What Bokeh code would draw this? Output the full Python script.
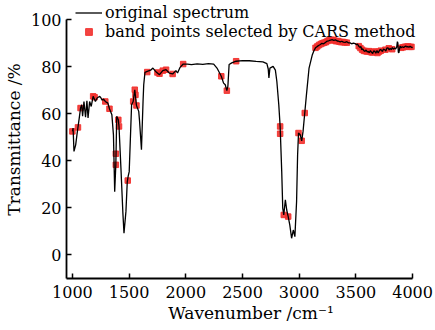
from bokeh.plotting import figure
from bokeh.models import Legend, LegendItem, Range1d, FixedTicker
from bokeh.embed import file_html
from bokeh.resources import INLINE

# ---- data ----
wavenumber = [1000, 1006, 1014, 1022, 1029, 1040, 1049, 1060, 1072, 1082, 1090, 1102, 1116, 1128,
              1138, 1152, 1166, 1183, 1203, 1218, 1241, 1252, 1262, 1275, 1290, 1313, 1327, 1348,
              1362, 1373, 1383, 1391, 1405, 1411, 1428, 1445, 1455, 1472, 1484, 1492, 1501, 1522,
              1536, 1550, 1565, 1585, 1592, 1609, 1623, 1629, 1640, 1660, 1690, 1710, 1739, 1768,
              1797, 1826, 1855, 1884, 1913, 1927, 1950, 1977, 2015, 2050, 2100, 2150, 2200, 2246,
              2275, 2298, 2313, 2333, 2348, 2362, 2371, 2382, 2405, 2444, 2500, 2560, 2620, 2680,
              2715, 2727, 2733, 2742, 2770, 2790, 2803, 2820, 2832, 2846, 2855, 2864, 2878, 2890,
              2903, 2917, 2933, 2948, 2962, 2977, 2986, 2994, 3009, 3022, 3034, 3049, 3064, 3087,
              3116, 3130, 3144, 3160, 3175, 3187, 3200, 3215, 3231, 3245, 3260, 3275, 3290, 3305,
              3320, 3335, 3348, 3362, 3375, 3390, 3405, 3420, 3435, 3449, 3462, 3478, 3493, 3505,
              3515, 3522, 3535, 3545, 3551, 3560, 3570, 3580, 3590, 3600, 3609, 3618, 3628, 3638,
              3648, 3657, 3667, 3676, 3686, 3696, 3705, 3715, 3725, 3734, 3744, 3754, 3764, 3773,
              3783, 3793, 3802, 3812, 3822, 3831, 3841, 3850, 3860, 3866, 3870, 3874, 3879, 3885,
              3890, 3899, 3910, 3920, 3928, 3940, 3950, 3957, 3968, 3978, 3985, 3993, 4000]
transmittance = [52.5, 53.9, 44.0, 45.5, 46.8, 51.0, 54.2, 58.0, 62.4, 63.8, 58.9, 65.2, 58.5, 65.5,
                 58.2, 65.2, 63.1, 67.4, 65.2, 66.7, 67.4, 66.7, 65.8, 66.2, 65.2, 64.5, 62.1, 59.6,
                 51.0, 26.9, 38.3, 58.9, 57.4, 54.6, 36.9, 18.0, 9.2, 18.4, 31.2, 33.5, 35.4, 63.8,
                 65.2, 70.2, 63.5, 61.0, 57.0, 44.7, 65.2, 72.3, 77.6, 78.0, 78.5, 79.4, 77.7, 76.6,
                 78.3, 78.7, 77.3, 76.9, 78.3, 77.3, 79.7, 81.1, 81.1, 80.9, 81.2, 81.0, 81.3, 81.1,
                 79.4, 77.3, 75.9, 73.0, 72.3, 69.8, 71.6, 80.9, 81.6, 82.3, 82.6, 82.5, 82.2, 82.0,
                 81.3, 79.0, 75.2, 79.4, 80.1, 78.5, 73.7, 63.8, 54.6, 35.4, 19.9, 17.0, 23.4, 19.1,
                 16.3, 12.8, 7.1, 10.6, 7.8, 22.7, 42.6, 51.8, 51.1, 48.5, 52.5, 60.3, 68.1, 79.4,
                 85.1, 86.8, 88.0, 88.6, 89.1, 89.4, 89.9, 89.7, 90.3, 90.8, 91.0, 91.3, 91.5, 91.2,
                 91.4, 90.9, 90.8, 90.5, 90.8, 90.4, 90.3, 90.6, 90.1, 90.1, 89.7, 90.0, 89.8, 89.3,
                 89.6, 88.9, 88.2, 88.5, 87.2, 87.6, 86.8, 86.5, 87.1, 86.2, 86.5, 85.9, 86.8, 86.1,
                 85.6, 86.7, 86.5, 85.7, 86.9, 85.8, 86.6, 87.3, 87.0, 86.4, 87.5, 87.2, 86.6, 87.9,
                 88.0, 87.1, 87.8, 87.2, 88.1, 87.4, 88.0, 87.5, 88.3, 90.6, 90.1, 86.2, 85.8, 87.5,
                 88.7, 88.0, 88.5, 88.1, 88.4, 88.8, 88.3, 88.6, 88.2, 88.7, 88.4, 88.1, 88.3]

cars_wavenumber = [1000, 1049, 1072, 1183, 1196, 1290, 1327, 1383, 1383, 1405, 1411, 1488, 1536,
                   1550, 1556, 1565, 1660, 1750, 1768, 1797, 1826, 1884, 1977, 2313, 2362, 2444,
                   2832, 2832, 2864, 2903, 2994, 3022, 3049,
                   3144, 3160, 3175, 3190, 3205, 3220, 3235, 3250, 3265, 3280, 3295, 3310, 3325,
                   3340, 3355, 3370, 3385, 3400, 3420,
                   3525, 3540, 3555, 3570, 3585, 3600, 3615, 3630, 3645, 3660, 3675, 3690, 3705,
                   3720, 3760, 3790, 3820,
                   3900, 3915, 3930, 3945, 3960, 3975, 3990]
cars_transmittance = [52.5, 54.2, 62.4, 67.4, 67.0, 65.2, 62.1, 43.0, 38.3, 57.4, 54.6, 31.6, 65.2,
                      70.2, 68.0, 63.5, 77.7, 77.5, 77.0, 78.3, 78.7, 76.9, 81.1, 75.9, 69.8, 82.3,
                      54.6, 51.5, 17.0, 16.3, 51.8, 48.5, 60.3,
                      88.0, 88.6, 89.2, 89.6, 89.9, 90.2, 90.4, 90.9, 91.2, 91.4, 91.4, 91.1, 90.8,
                      90.9, 90.6, 90.4, 90.5, 90.3, 90.2,
                      88.7, 87.9, 87.2, 86.7, 86.6, 86.4, 86.6, 86.2, 86.0, 86.4, 86.3, 85.8, 86.4,
                      86.8, 87.2, 87.8, 87.4,
                      88.0, 88.2, 88.4, 88.5, 88.6, 88.4, 88.4]

x_ticks = [1000, 1500, 2000, 2500, 3000, 3500, 4000]
y_ticks = [0, 20, 40, 60, 80, 100]

FONT = "DejaVu Serif"

# frame spans the whole top/right of the canvas so the legend is not clipped;
# the axis lines are bounded to the data extent as in the reference
p = figure(width=435, height=330, output_backend="svg", toolbar_location=None,
           x_range=Range1d(948, 4202), y_range=Range1d(-10, 108.1),
           min_border_left=61, min_border_right=0, min_border_top=0, min_border_bottom=52)
p.outline_line_color = None
p.xgrid.grid_line_color = None
p.ygrid.grid_line_color = None
p.background_fill_color = "white"
p.border_fill_color = "white"

sc = p.scatter(cars_wavenumber, cars_transmittance, marker="square", size=5.5,
               fill_color="#f2302c", line_color="#f2302c", alpha=0.9)
ln = p.line(wavenumber, transmittance, line_color="black", line_width=1.3)

for ax, ticks in ((p.xaxis[0], x_ticks), (p.yaxis[0], y_ticks)):
    ax.ticker = FixedTicker(ticks=ticks)
    ax.minor_tick_line_color = None
    ax.major_tick_in = 5
    ax.major_tick_out = 0
    ax.major_tick_line_width = 1.5
    ax.axis_line_width = 1.8
    ax.axis_line_color = "black"
    ax.major_tick_line_color = "black"
    ax.major_label_text_font = FONT
    ax.major_label_text_font_size = "16px"
    ax.major_label_text_color = "black"
    ax.axis_label_text_font = FONT
    ax.axis_label_text_font_size = "17px"
    ax.axis_label_text_font_style = "normal"
    ax.axis_label_text_color = "black"

p.yaxis.bounds = (-10, 100)
p.xaxis.bounds = (948, 4000)
p.xaxis.axis_label = "Wavenumber /cm⁻¹"
p.yaxis.axis_label = "Transmittance /%"
p.xaxis.major_label_standoff = 7
p.yaxis.major_label_standoff = 5
p.xaxis.axis_label_standoff = 2
p.yaxis.axis_label_standoff = 4

legend = Legend(items=[LegendItem(label="original spectrum", renderers=[ln]),
                       LegendItem(label="band points selected by CARS method", renderers=[sc])],
                location=(9, 237))
legend.label_text_font = FONT
legend.label_text_font_size = "16px"
legend.label_text_color = "black"
legend.glyph_width = 27
legend.glyph_height = 17
legend.label_height = 17
legend.spacing = 0
legend.padding = 0
legend.margin = 0
legend.label_standoff = 3
legend.border_line_alpha = 0
legend.background_fill_alpha = 0
p.add_layout(legend)

open("out.html", "w").write(file_html(p, INLINE))
